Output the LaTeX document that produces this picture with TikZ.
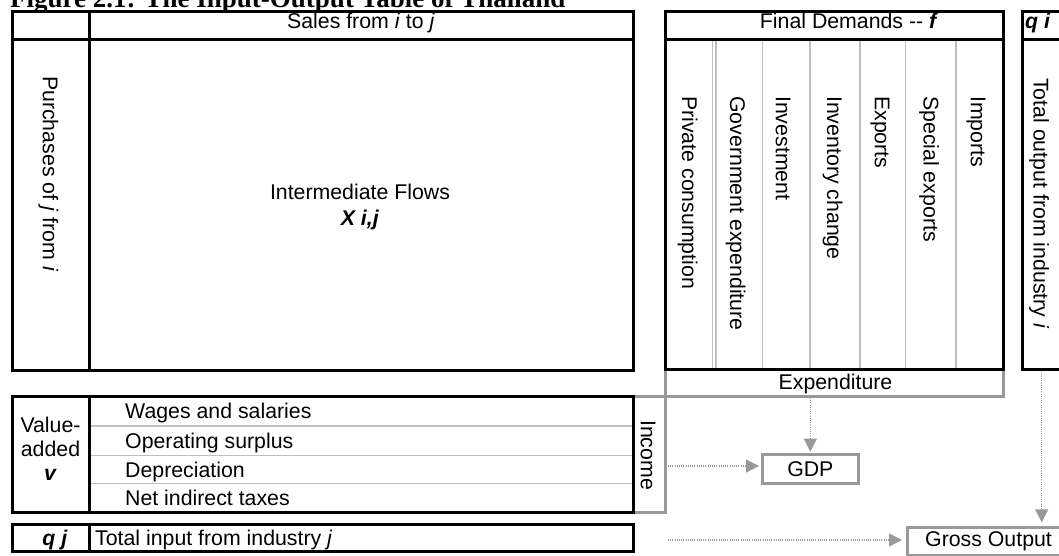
\documentclass[tikz,border=0pt]{standalone}
\usepackage{fontspec}
\setmainfont{Liberation Sans}
\newfontfamily\serifbf{Liberation Serif}
\usetikzlibrary{arrows.meta}
\definecolor{midgray}{gray}{0.6}
\definecolor{divgray}{gray}{0.75}
\definecolor{arrowgray}{gray}{0.6}
\newcommand{\fs}{\fontsize{21.3}{24.5}\selectfont}
\begin{document}
\begin{tikzpicture}[x=1pt,y=-1pt,
  blk/.style={draw=black,line width=3pt},
  gry/.style={draw=midgray,line width=3pt},
  divl/.style={draw=divgray,line width=1.2pt},
  txt/.style={inner sep=0pt,font=\fs},
  vtxt/.style={inner sep=0pt,font=\fs,rotate=-90,anchor=west},
  dotarrow/.style={draw=arrowgray,line width=1.2pt,dash pattern=on 1pt off 1.2pt,
     -{Triangle[length=13pt,width=13pt]}},
]
\useasboundingbox (0,0) rectangle (1059,555);
% title
\node[anchor=base west,inner sep=0pt,font=\serifbf\bfseries\fontsize{27}{30}\selectfont] (title) at (10,7) {Figure 2.1: The Input-Output Table of Thailand};

% gray expenditure / income frame
\draw[gry] (665.3,371) -- (665.3,512) -- (633.5,512);
\draw[gry] (633.5,396.3) -- (1003,396.3) -- (1003,371);

% main block
\draw[blk] (12,11.5) rectangle (633.5,370);
\draw[blk] (89,11.5) -- (89,370);
\draw[blk] (12,39.5) -- (633.5,39.5);
\node[txt,anchor=base] (sales) at (361,28.5) {Sales from \textit{i} to \textit{j}};
\node[vtxt] (purch) at (48.3,76) {Purchases of \textit{j} from \textit{i}};
\node[txt,anchor=base] (inter) at (360,199.5) {Intermediate Flows};
\node[txt,anchor=base] (xij) at (360,225) {\textbf{\textit{X i,j}}};

% final demands
\foreach \x in {712.7,716,762.7,810,860,905.7,956} \draw[divl] (\x,41) -- (\x,368.5);
\draw[blk] (665.3,11.3) rectangle (1003,369.7);
\draw[blk] (665.3,39.7) -- (1003,39.7);
\node[txt,anchor=base] (fd) at (849,28.5) {Final Demands -{}- \textbf{\textit{f}}};
\node[vtxt] (fd1) at (687.5,96) {Private consumption};
\node[vtxt] (fd2) at (735.5,96) {Government expenditure};
\node[vtxt] (fd3) at (783,96) {Investment};
\node[vtxt] (fd4) at (832.5,96) {Inventory change};
\node[vtxt] (fd5) at (880,96) {Exports};
\node[vtxt] (fd6) at (929,96) {Special exports};
\node[vtxt] (fd7) at (976,96) {Imports};
\node[txt,anchor=base] (exp) at (835.5,389) {Expenditure};

% q i column
\draw[blk] (1085,11.3) -- (1022.3,11.3) -- (1022.3,369.7) -- (1085,369.7);
\draw[blk] (1022.3,39.7) -- (1085,39.7);
\node[txt,anchor=base west] (qi) at (1025,28.5) {\textbf{\textit{q i}}};
\node[vtxt] (tout) at (1039,78) {Total output from industry \textit{i}};

% value added
\draw[draw=divgray,line width=2pt] (90.5,426) -- (632,426);
\draw[draw=divgray,line width=1pt] (90.5,455.5) -- (632,455.5);
\draw[draw=divgray,line width=1pt] (90.5,483.5) -- (632,483.5);
\draw[blk] (12,396) rectangle (633.5,512);
\draw[blk] (89,396) -- (89,512);
\node[txt,anchor=base] (va1) at (50.5,432) {Value-};
\node[txt,anchor=base] (va2) at (50.5,456) {added};
\node[txt,anchor=base] (va3) at (50.5,480) {\textbf{\textit{v}}};
\node[txt,anchor=base west] (r1) at (125,418) {Wages and salaries};
\node[txt,anchor=base west] (r2) at (125,448) {Operating surplus};
\node[txt,anchor=base west] (r3) at (125,477) {Depreciation};
\node[txt,anchor=base west] (r4) at (125,505.5) {Net indirect taxes};
\node[txt,rotate=-90] (inc) at (648,455) {Income};

% q j row
\draw[blk] (12,524.7) rectangle (633.5,551.7);
\draw[blk] (89,524.7) -- (89,551.7);
\node[txt,anchor=base] (qj) at (55,545) {\textbf{\textit{q j}}};
\node[txt,anchor=base west] (tin) at (95,545) {Total input from industry \textit{j}};

% GDP and gross output
\node[gry,txt,minimum width=96.7pt,minimum height=28.3pt,outer sep=0pt] (gdp) at (810.35,468.85) {GDP};
\node[gry,minimum width=170pt,minimum height=28.5pt,outer sep=0pt,inner sep=0pt,anchor=north west] (gout) at (907,527.3) {};
\node[txt,anchor=base west] (gouttxt) at (925,546.7) {Gross Output};

% connectors
\coordinate (expB) at (810.35,398);
\coordinate (incR) at (668,466);
\coordinate (qjR) at (668,540);
\coordinate (qiS) at (1041.7,371.5);
\draw[dotarrow,shorten >=3pt] (expB) -- (gdp.north);
\draw[dotarrow,shorten >=3pt] (incR) -- (incR -| gdp.west);
\draw[dotarrow,shorten >=5pt] (qjR) -- (qjR -| gout.west);
\draw[dotarrow,shorten >=5pt] (qiS) -- (qiS |- gout.north);
\end{tikzpicture}
\end{document}
